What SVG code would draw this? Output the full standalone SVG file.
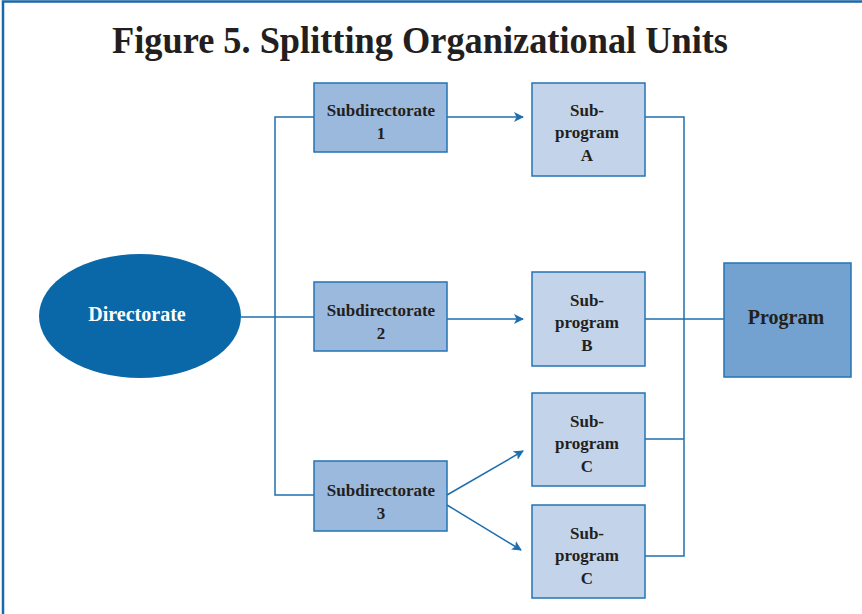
<svg xmlns="http://www.w3.org/2000/svg" width="862" height="614" viewBox="0 0 862 614">
<defs>
<style>
.t{font-family:"Liberation Serif","Times New Roman",serif;font-weight:bold;fill:#231f20;text-anchor:middle}
.n{font-size:17px}
.box{stroke:#2374b4;stroke-width:1.5}
.sd{fill:#9bb9dd}
.sp{fill:#c3d4ea}
.c{fill:none;stroke:#1f6fae;stroke-width:1.5}
</style>
<marker id="ah" viewBox="0 0 10 10" refX="9" refY="5" markerWidth="10" markerHeight="10" markerUnits="userSpaceOnUse" orient="auto">
<path d="M0,0 L10,5 L0,10 L2.5,5 Z" fill="#1f6fae"/>
</marker>
</defs>
<rect width="862" height="614" fill="#ffffff"/>
<path d="M3,614 V1.5 H862" fill="none" stroke="#1a68a8" stroke-width="2.5"/>
<text class="t" x="420" y="53" font-size="38" textLength="616" lengthAdjust="spacingAndGlyphs">Figure 5. Splitting Organizational Units</text>

<g id="connectors">
<path class="c" d="M241,317 H314"/>
<path class="c" d="M314,117 H275 V495 H314"/>
<path class="c" d="M447,117 H523" marker-end="url(#ah)"/>
<path class="c" d="M447,319 H523" marker-end="url(#ah)"/>
<path class="c" d="M447,495 L523,451" marker-end="url(#ah)"/>
<path class="c" d="M447,505 L521,550" marker-end="url(#ah)"/>
<path class="c" d="M645,117 H684 V556 H645"/>
<path class="c" d="M645,439 H684"/>
<path class="c" d="M645,319 H724"/>
</g>

<g id="directorate">
<ellipse cx="140" cy="316" rx="101" ry="62" fill="#0b68a8"/>
<text class="t" x="137" y="321" font-size="20" style="fill:#ffffff">Directorate</text>
</g>

<g id="subdirectorate1">
<rect class="box sd" x="314" y="83" width="133" height="69"/>
<text class="t n" x="381" y="116">Subdirectorate</text>
<text class="t n" x="381" y="139">1</text>
</g>
<g id="subdirectorate2">
<rect class="box sd" x="314" y="282" width="133" height="69"/>
<text class="t n" x="381" y="316">Subdirectorate</text>
<text class="t n" x="381" y="339">2</text>
</g>
<g id="subdirectorate3">
<rect class="box sd" x="314" y="461" width="133" height="70"/>
<text class="t n" x="381" y="496">Subdirectorate</text>
<text class="t n" x="381" y="519">3</text>
</g>

<g id="subprogramA">
<rect class="box sp" x="532" y="83" width="113" height="93"/>
<text class="t n" x="587" y="116">Sub-</text>
<text class="t n" x="587" y="138">program</text>
<text class="t n" x="587" y="161">A</text>
</g>
<g id="subprogramB">
<rect class="box sp" x="532" y="272" width="113" height="94"/>
<text class="t n" x="587" y="306">Sub-</text>
<text class="t n" x="587" y="328">program</text>
<text class="t n" x="587" y="351">B</text>
</g>
<g id="subprogramC1">
<rect class="box sp" x="532" y="393" width="113" height="93"/>
<text class="t n" x="587" y="427">Sub-</text>
<text class="t n" x="587" y="449">program</text>
<text class="t n" x="587" y="472">C</text>
</g>
<g id="subprogramC2">
<rect class="box sp" x="532" y="505" width="113" height="93"/>
<text class="t n" x="587" y="539">Sub-</text>
<text class="t n" x="587" y="561">program</text>
<text class="t n" x="587" y="584">C</text>
</g>

<g id="program">
<rect class="box" x="724" y="263" width="127" height="114" fill="#74a2d0"/>
<text class="t" x="786" y="324" font-size="20">Program</text>
</g>
</svg>
